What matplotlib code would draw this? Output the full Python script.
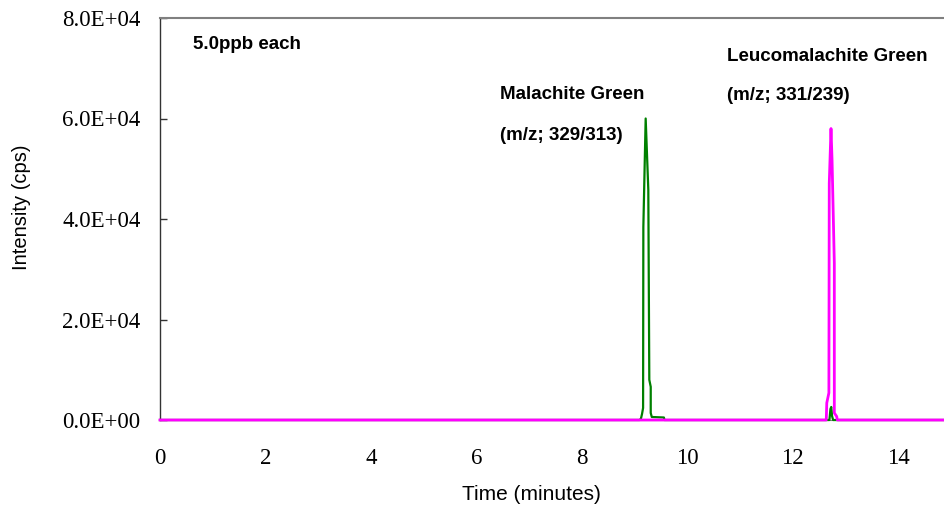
import matplotlib
matplotlib.use("Agg")
import matplotlib.pyplot as plt
from matplotlib.ticker import FuncFormatter

# chromatogram traces (time in minutes, intensity in cps)
mg_time = [0, 9.10, 9.125, 9.145, 9.165, 9.17, 9.214, 9.264, 9.283, 9.31, 9.31,
           9.33, 9.56, 9.57, 12.70, 12.72, 12.735, 12.75, 12.77, 15]
mg_int = [0, 0, 300, 1200, 2400, 38400, 60000, 45800, 8000, 6600, 1400,
          600, 500, 0, 0, 2200, 2600, 800, 0, 0]

lmg_time = [0, 12.64, 12.65, 12.69, 12.697, 12.73, 12.75, 12.793, 12.793, 12.838, 12.85, 15]
lmg_int = [0, 0, 3400, 5400, 47100, 58000, 51700, 31200, 1400, 700, 0, 0]

y_ticks = [0, 20000, 40000, 60000, 80000]
x_ticks = [0, 2, 4, 6, 8, 10, 12, 14]

W, H = 944, 516
fig = plt.figure(figsize=(W / 100, H / 100), dpi=100)
px_per_min = 52.71
ax = fig.add_axes([160 / W, 96 / H, 15 * px_per_min / W, 402 / H])

# lines over the spines, like the excel export
ax.plot(mg_time, mg_int, color="#008000", lw=1.6, zorder=3, clip_on=False)
ax.plot(lmg_time, lmg_int, color="#ff00ff", lw=2.0, zorder=3, clip_on=False)

ax.set_xlim(0, 15)
ax.set_ylim(0, 80000)
ax.set_xticks(x_ticks)
ax.set_yticks(y_ticks)
ax.yaxis.set_major_formatter(FuncFormatter(lambda v, p: f"{v:.1E}"))

serif = "Liberation Serif"
for lab in ax.get_xticklabels() + ax.get_yticklabels():
    lab.set_fontfamily(serif)
    lab.set_fontsize(16.5)
ax.tick_params(axis="x", length=0, pad=20)
ax.tick_params(axis="y", direction="in", length=5, width=1, color="#333333", pad=14)

ax.spines["right"].set_visible(False)
ax.spines["top"].set_color("#808080")
ax.spines["top"].set_linewidth(1.5)
ax.spines["left"].set_color("#333333")
ax.spines["left"].set_linewidth(1)
ax.spines["bottom"].set_color("#808080")

sans = "Liberation Sans"
ax.set_xlabel("Time (minutes)", fontfamily=sans, fontsize=15)
ax.xaxis.set_label_coords((531 - 160) / (15 * px_per_min), -(495 - 420) / 402)
ax.set_ylabel("Intensity (cps)", fontfamily=sans, fontsize=14.5)
ax.yaxis.set_label_coords(-(160 - 22) / (15 * px_per_min), (420 - 207) / 402)
ax.xaxis.label.set_va("center")
ax.yaxis.label.set_va("center")

bold = dict(fontfamily=sans, fontsize=13.5, fontweight="bold", va="center", ha="left")
ax.text(0.626, 74800, "5.0ppb each", **bold)
ax.text(6.45, 64700, "Malachite Green", **bold)
ax.text(6.45, 56700, "(m/z; 329/313)", **bold)
ax.text(10.76, 72300, "Leucomalachite Green", **bold)
ax.text(10.76, 64500, "(m/z; 331/239)", **bold)

fig.savefig("out.png", dpi=100)
